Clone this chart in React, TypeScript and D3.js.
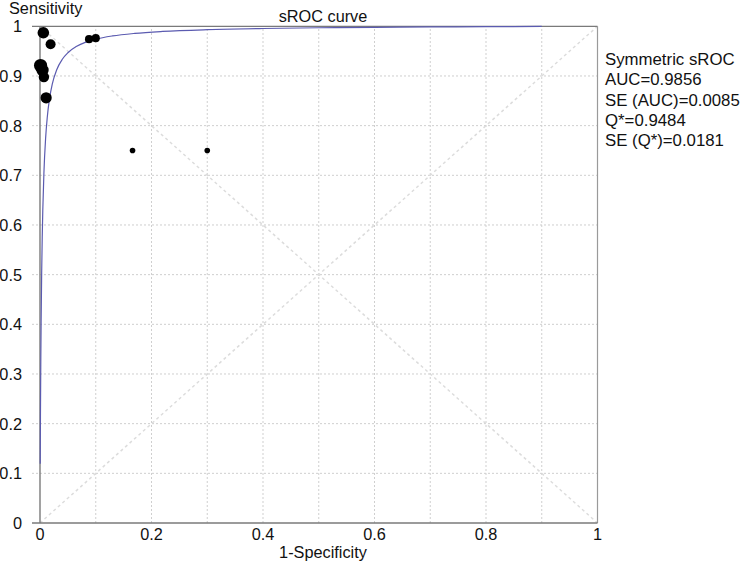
import React from "react";
import * as d3 from "d3";

// Study points (1-Specificity, Sensitivity, relative weight)
const studyFpr = [0.006, 0.019, 0.088, 0.1, 0.001, 0.0045, 0.007, 0.011, 0.166, 0.3];
const studySens = [0.987, 0.964, 0.974, 0.976, 0.921, 0.912, 0.898, 0.856, 0.75, 0.75];
const studyWeight = [5.8, 5.0, 4.1, 4.1, 6.6, 6.2, 5.2, 5.6, 2.8, 2.8];

// Summary statistics
const statLabels = ["Symmetric sROC", "AUC=0.9856", "SE (AUC)=0.0085", "Q*=0.9484", "SE (Q*)=0.0181"];
const qStar = 0.9484;

// FPR values at which the fitted symmetric sROC curve is drawn
const curveFpr = [
  0.0004, 0.0006, 0.0008, 0.001, 0.0015, 0.002, 0.003, 0.004, 0.005, 0.007, 0.01, 0.013,
  0.017, 0.022, 0.03, 0.04, 0.05, 0.065, 0.08, 0.1, 0.13, 0.17, 0.22, 0.3, 0.4, 0.5,
  0.6, 0.7, 0.8, 0.9,
];

const xTicks = [0, 0.2, 0.4, 0.6, 0.8, 1];
const yTicks = [0, 0.1, 0.2, 0.3, 0.4, 0.5, 0.6, 0.7, 0.8, 0.9, 1];
const gridVals = [0.1, 0.2, 0.3, 0.4, 0.5, 0.6, 0.7, 0.8, 0.9];

const W = 741;
const H = 568;
const left = 40;
const right = 597.5;
const top = 26.3;
const bottom = 523;

export default function App() {
  const x = d3.scaleLinear().domain([0, 1]).range([left, right]);
  const y = d3.scaleLinear().domain([0, 1]).range([bottom, top]);
  const r = d3.scaleLinear().domain([0, 1]).range([0, 1]);

  // Symmetric Moses-Littenberg model: logit(TPR) = 2*logit(Q*) + logit(FPR)
  const expA = Math.pow(qStar / (1 - qStar), 2);
  const curveData: [number, number][] = curveFpr.map((f) => {
    const odds = expA * (f / (1 - f));
    return [f, odds / (1 + odds)];
  });
  const line = d3
    .line<[number, number]>()
    .x((d) => x(d[0]))
    .y((d) => y(d[1]))
    .curve(d3.curveMonotoneX);

  const font = "'Liberation Sans', Arial, Helvetica, sans-serif";
  const frameColor = "#7a7a7a";
  const gridColor = "#cfcfcf";

  return (
    <svg
      width={W}
      height={H}
      style={{ position: "absolute", left: 0, top: 0, background: "#fff" }}
      fontFamily={font}
    >
      <rect x={0} y={0} width={W} height={H} fill="#fff" />
      {/* gridlines */}
      {gridVals.map((v) => (
        <line
          key={"gx" + v}
          x1={x(v)}
          x2={x(v)}
          y1={y(0)}
          y2={y(1)}
          stroke={gridColor}
          strokeWidth={1}
          strokeDasharray="2,2"
        />
      ))}
      {gridVals.map((v) => (
        <line
          key={"gy" + v}
          x1={x(0) - 8}
          x2={x(1)}
          y1={y(v)}
          y2={y(v)}
          stroke={gridColor}
          strokeWidth={1}
          strokeDasharray="2,2"
        />
      ))}
      {/* diagonals */}
      <line x1={x(0)} y1={y(0)} x2={x(1)} y2={y(1)} stroke="#dcdcdc" strokeWidth={1.5} strokeDasharray="3,3" />
      <line x1={x(0)} y1={y(1)} x2={x(1)} y2={y(0)} stroke="#dcdcdc" strokeWidth={1.5} strokeDasharray="3,3" />
      {/* frame */}
      <line x1={x(0) - 8} x2={x(1)} y1={y(1)} y2={y(1)} stroke={frameColor} strokeWidth={1.2} />
      <line x1={x(1)} x2={x(1)} y1={y(1)} y2={y(0)} stroke="#9a9a9a" strokeWidth={1.2} />
      <line x1={x(0)} x2={x(0)} y1={y(1)} y2={y(0)} stroke={frameColor} strokeWidth={1.4} />
      <line x1={x(0) - 8} x2={x(1)} y1={y(0)} y2={y(0)} stroke={frameColor} strokeWidth={1.4} />
      {/* curve */}
      <path d={line(curveData) || ""} fill="none" stroke="#5b5bb0" strokeWidth={1.2} />
      {/* points */}
      {studyFpr.map((f, i) => (
        <circle key={"p" + i} cx={x(f)} cy={y(studySens[i])} r={r(studyWeight[i])} fill="#000" />
      ))}
      {/* y tick labels */}
      {yTicks.map((v) => (
        <text key={"yt" + v} x={22} y={y(v)} dy="0.36em" textAnchor="end" fontSize={16.3} fill="#111">
          {d3.format("~g")(v)}
        </text>
      ))}
      {/* x tick labels */}
      {xTicks.map((v) => (
        <text key={"xt" + v} x={x(v)} y={540} textAnchor="middle" fontSize={16.3} fill="#111">
          {d3.format("~g")(v)}
        </text>
      ))}
      <text x={9} y={14} fontSize={16.3} fill="#111">Sensitivity</text>
      <text x={323} y={22} textAnchor="middle" fontSize={16.3} fill="#111">sROC curve</text>
      <text x={323} y={558} textAnchor="middle" fontSize={16.3} fill="#111">1-Specificity</text>
      {statLabels.map((s, i) => (
        <text key={"s" + i} x={605} y={65 + i * 20.3} fontSize={16.8} fill="#111">
          {s}
        </text>
      ))}
    </svg>
  );
}
